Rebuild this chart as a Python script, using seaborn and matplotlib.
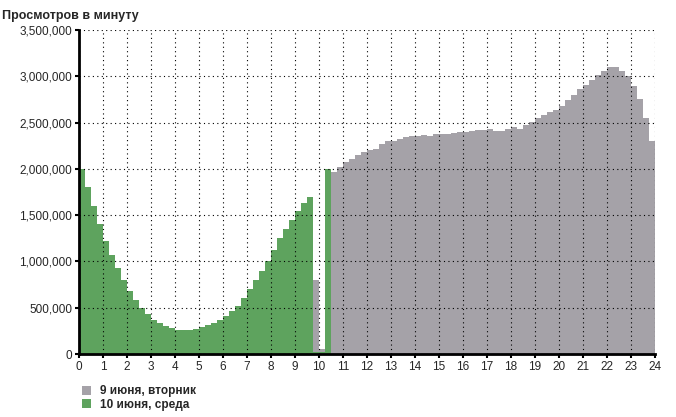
import numpy as np
import matplotlib
matplotlib.use("Agg")
import matplotlib.pyplot as plt
import seaborn as sns

# 15-minute bins, values in millions of views per minute
green_start = 0.0
green_vals = [2.0, 1.8, 1.6, 1.4, 1.22, 1.07, 0.93, 0.8, 0.68, 0.58, 0.5, 0.43,
              0.37, 0.33, 0.3, 0.28, 0.26, 0.255, 0.26, 0.27, 0.29, 0.31, 0.34, 0.37,
              0.41, 0.46, 0.52, 0.6, 0.7, 0.8, 0.9, 1.0, 1.12, 1.25, 1.35, 1.45,
              1.55, 1.63, 1.7, 0.02, 0.02, 2.0]
gray_start = 9.75
gray_vals = [0.8, 0.05, 0.3, 1.97, 2.02, 2.07, 2.11, 2.15, 2.18, 2.2, 2.22, 2.27,
             2.3, 2.3, 2.32, 2.34, 2.36, 2.36, 2.37, 2.36, 2.38, 2.38, 2.38, 2.39,
             2.4, 2.4, 2.41, 2.42, 2.42, 2.43, 2.41, 2.41, 2.43, 2.45, 2.43, 2.47,
             2.51, 2.55, 2.58, 2.61, 2.64, 2.68, 2.74, 2.8, 2.86, 2.91, 2.96, 3.01,
             3.06, 3.1, 3.1, 3.06, 3.0, 2.9, 2.75, 2.55, 2.3]
step = 0.25
labels = ["9 июня, вторник", "10 июня, среда"]
colors = ["#a5a2a8", "#5ea35e"]

sns.set_style("white")
plt.rcParams["font.family"] = ["Liberation Sans", "DejaVu Sans"]

fig = plt.figure(figsize=(6.76, 4.17), dpi=100)
ax = fig.add_axes([0.117, 0.151, 0.852, 0.777])

gx = gray_start + step * np.arange(len(gray_vals))
ax.bar(gx, np.array(gray_vals) * 1e6, width=step, align="edge", color=colors[0],
       linewidth=0, label=labels[0])
nx = green_start + step * np.arange(len(green_vals))
ax.bar(nx, np.array(green_vals) * 1e6, width=step, align="edge", color=colors[1],
       linewidth=0, label=labels[1])

ax.set_xlim(0, 24)
ax.set_ylim(0, 3.5e6)
ax.set_xticks(range(25))
ax.set_yticks(np.arange(0, 3.5e6 + 1, 5e5))
ax.set_yticklabels([f"{int(v):,}" for v in np.arange(0, 3.5e6 + 1, 5e5)])
ax.tick_params(axis="both", labelsize=8.5, length=3, width=1.5, color="black",
               direction="out", left=True, bottom=True, pad=2)
ax.grid(True, color="black", linestyle=(0, (1, 3)), linewidth=0.8)
ax.set_axisbelow(False)
for s in ["top", "right"]:
    ax.spines[s].set_visible(False)
for s in ["left", "bottom"]:
    ax.spines[s].set_linewidth(2)
    ax.spines[s].set_color("black")

fig.text(0.003, 0.975, "Просмотров в минуту", fontsize=9, fontweight="bold",
         va="top", ha="left")
fig.legend(loc="lower left", bbox_to_anchor=(0.105, -0.01), frameon=False,
           fontsize=8.5, handlelength=0.8, handleheight=0.8, labelspacing=0.1,
           prop={"weight": "bold", "size": 8.5})

fig.savefig("out.png", dpi=100)
